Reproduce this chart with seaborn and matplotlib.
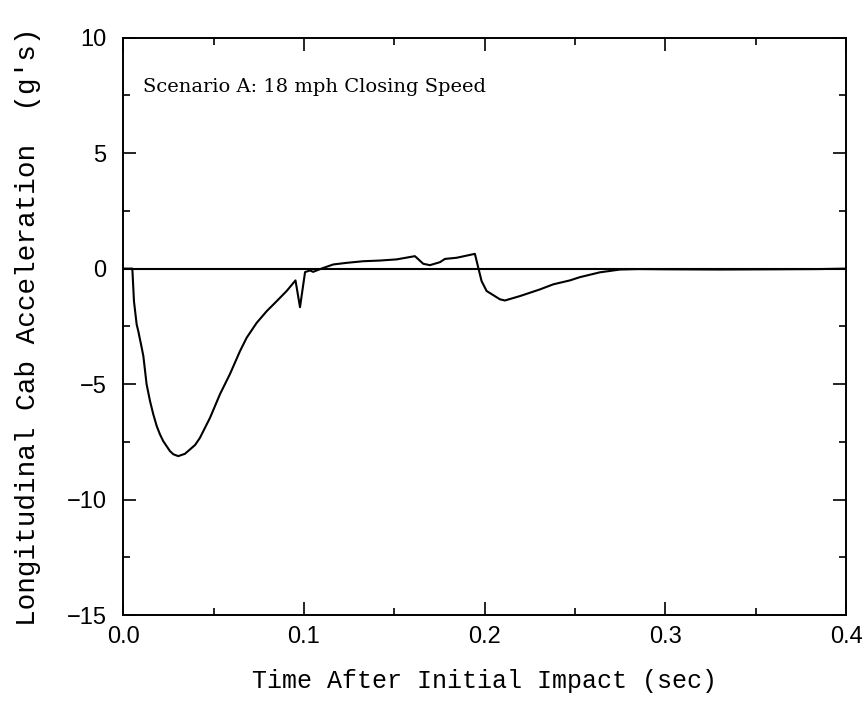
import matplotlib
matplotlib.use("Agg")
import matplotlib.pyplot as plt
from matplotlib.ticker import MultipleLocator
import seaborn as sns
import pandas as pd

# ---- data ----
time_sec = [0.0, 0.005, 0.0059, 0.0074, 0.0083, 0.0102, 0.0111, 0.0129, 0.0148,
            0.0166, 0.0185, 0.0203, 0.0221, 0.0258, 0.0277, 0.0304, 0.0341,
            0.0369, 0.0397, 0.0424, 0.048, 0.0535, 0.059, 0.0646, 0.0683, 0.0738,
            0.0794, 0.0849, 0.0904, 0.0953, 0.0978, 0.1006, 0.1033, 0.1051, 0.107,
            0.1107, 0.1162, 0.1236, 0.1328, 0.1421, 0.1513, 0.1614, 0.166, 0.1697,
            0.1753, 0.178, 0.1845, 0.1946, 0.1965, 0.1983, 0.2011, 0.2085, 0.2112,
            0.2195, 0.2306, 0.238, 0.2472, 0.2527, 0.2638, 0.2749, 0.285, 0.30,
            0.33, 0.36, 0.385, 0.40]
accel_g = [0.0, 0.0, -1.41, -2.42, -2.71, -3.43, -3.79, -5.01, -5.74,
           -6.31, -6.82, -7.18, -7.47, -7.90, -8.04, -8.12, -8.02,
           -7.83, -7.64, -7.33, -6.46, -5.44, -4.57, -3.57, -2.99, -2.35,
           -1.84, -1.41, -0.97, -0.51, -1.67, -0.15, -0.08, -0.14, -0.08,
           0.03, 0.18, 0.25, 0.32, 0.35, 0.40, 0.54, 0.21, 0.15,
           0.28, 0.42, 0.47, 0.64, 0.03, -0.54, -0.97, -1.33, -1.38,
           -1.19, -0.90, -0.68, -0.51, -0.37, -0.16, -0.04, -0.02, -0.03,
           -0.04, -0.03, -0.02, 0.0]

x_ticks = [0.0, 0.1, 0.2, 0.3, 0.4]
x_tick_labels = ["0.0", "0.1", "0.2", "0.3", "0.4"]
y_ticks = [-15, -10, -5, 0, 5, 10]
y_tick_labels = ["\u221215", "\u221210", "\u22125", "0", "5", "10"]

x_label = "Time After Initial Impact (sec)"
y_label = "Longitudinal Cab Acceleration  (g's)"
annotation = "Scenario A: 18 mph Closing Speed"

df = pd.DataFrame({"t": time_sec, "a": accel_g})

sns.set_style("ticks")
plt.rcParams["font.family"] = ["Liberation Sans", "DejaVu Sans"]
plt.rcParams["text.color"] = "black"
plt.rcParams["axes.labelcolor"] = "black"
plt.rcParams["xtick.color"] = "black"
plt.rcParams["ytick.color"] = "black"

fig = plt.figure(figsize=(8.64, 7.19), dpi=100)
ax = fig.add_axes([123.3 / 864, 1 - 615 / 719, (846 - 123.3) / 864, (615 - 37.7) / 719])

ax.axhline(0, color="black", lw=1.5, zorder=1)
sns.lineplot(data=df, x="t", y="a", ax=ax, color="black", lw=1.5,
             estimator=None, sort=False, zorder=2)

ax.set_xlim(0, 0.4)
ax.set_ylim(-15, 10)
ax.set_xticks(x_ticks)
ax.set_xticklabels(x_tick_labels)
ax.set_yticks(y_ticks)
ax.set_yticklabels(y_tick_labels)
ax.xaxis.set_minor_locator(MultipleLocator(0.05))
ax.yaxis.set_minor_locator(MultipleLocator(2.5))

for s in ax.spines.values():
    s.set_visible(True)
    s.set_linewidth(1.4)
    s.set_color("black")

ax.tick_params(which="both", direction="in", top=True, right=True,
               color="black", labelcolor="black", width=1.2)
ax.tick_params(which="major", length=9.5, labelsize=17)
ax.tick_params(axis="x", which="major", pad=8)
ax.tick_params(axis="y", which="major", pad=12)
ax.tick_params(which="minor", length=5)

ax.set_xlabel(x_label, family="Liberation Mono", fontsize=18, va="baseline",
              color="black")
ax.xaxis.set_label_coords(0.5, (615 - 688) / 577.3)
ax.set_ylabel(y_label, family="Liberation Mono", fontsize=20, va="baseline",
              color="black")
ax.yaxis.set_label_coords((35 - 123.3) / 722.7, 0.5)

ax.text(0.0107, 7.66, annotation, family="DejaVu Serif", fontsize=14,
        ha="left", va="baseline", color="black")

fig.savefig("out.png", dpi=100)
